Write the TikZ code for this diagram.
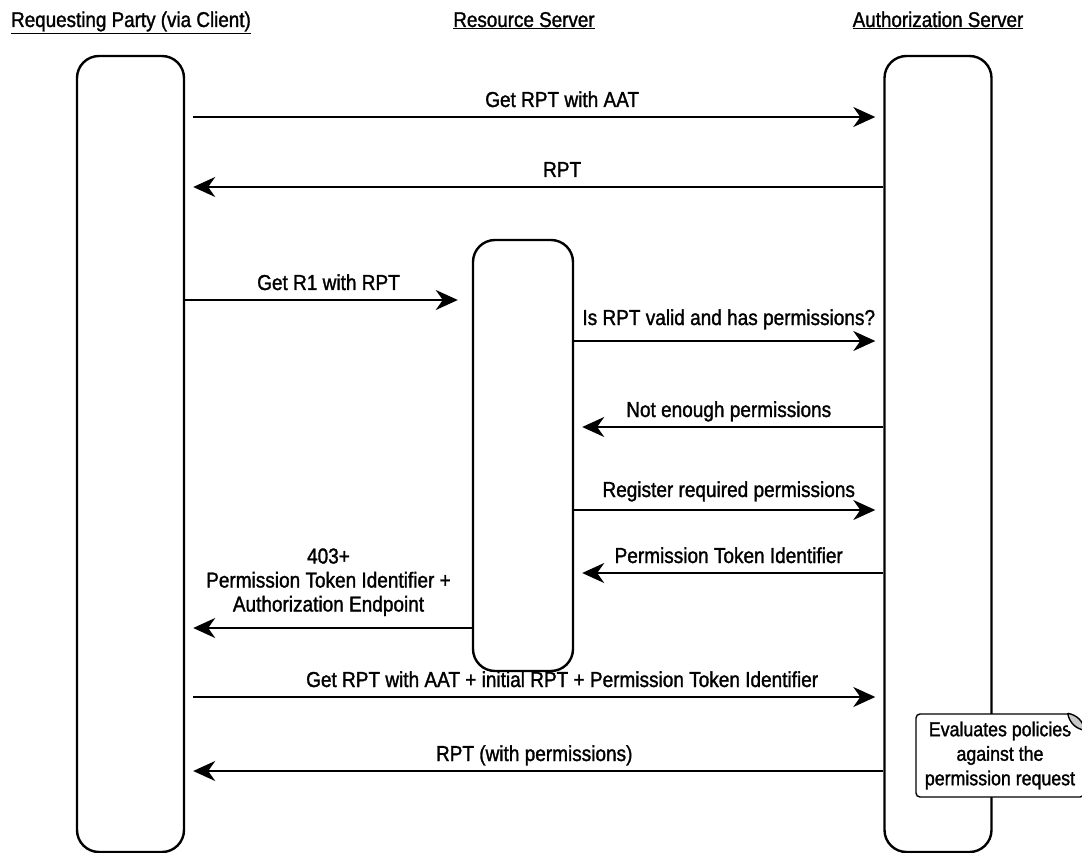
\documentclass[tikz,border=0pt]{standalone}
\usepackage{fontspec}
\setmainfont{Liberation Sans}[FakeStretch=0.88, FakeBold=1.4]
\usetikzlibrary{arrows.meta,positioning,calc}
\definecolor{UmaInk}{HTML}{000000}
\definecolor{UmaFold}{HTML}{C8C8C8}

\begin{document}
\begin{tikzpicture}[x=1pt, y=-1pt,
  every node/.style={font=\fontsize{21.6}{24}\selectfont, text=UmaInk},
  party/.style={font=\fontsize{21.4}{24}\selectfont, anchor=base, inner sep=0pt},
  lifeline/.style={draw=UmaInk, fill=white, rounded corners=22pt, line width=2.4pt,
                   minimum width=107pt, inner sep=0pt},
  msg/.style={-{Stealth[length=22pt,width=20pt,inset=7pt]}, draw=UmaInk,
              line width=2pt, shorten >=8pt},
  lbl/.style={anchor=base, yshift=10pt, inner sep=0pt},
  note/.style={draw=UmaInk, fill=white, rounded corners=4pt, line width=1.4pt, align=center,
               minimum width=168pt, minimum height=83pt, inner sep=0pt,
               font=\fontsize{20.2}{24.5}\selectfont},
]
\useasboundingbox (0,0) rectangle (1082,853);
% parties
\node[party] (rqp)  at (131,27) {\underline{Requesting Party (via Client)}};
\node[party] (rsh)  at (524,27) {\underline{Resource Server}};
\node[party] (ash)  at (938,27) {\underline{Authorization Server}};
% lifelines
\node[lifeline, minimum height=796pt] (client) at (130.5,454) {};
\node[lifeline, minimum height=796pt] (auth)   at (938,454) {};
\node[lifeline, minimum width=100pt, minimum height=431pt] (rs) at (523,455.5) {};
% message rows
\foreach \row/\y in {m1/117, m2/187, m3/300, m4/341, m5/427, m6/510, m7/573, m8/628, m9/697, m10/771}
  {\coordinate (\row) at (0,\y);}
% messages
\draw[msg, shorten <=8pt] (client.east |- m1) -- node[lbl, pos=0.54] {Get RPT with AAT} (auth.west |- m1);
\draw[msg] (auth.west |- m2) -- node[lbl, pos=0.46] {RPT} (client.east |- m2);
\draw[msg, shorten >=14pt] (client.east |- m3) -- node[lbl] {Get R1 with RPT} (rs.west |- m3);
\draw[msg] (rs.east |- m4) -- node[lbl, yshift=6pt] {Is RPT valid and has permissions?} (auth.west |- m4);
\draw[msg] (auth.west |- m5) -- node[lbl] {Not enough permissions} (rs.east |- m5);
\draw[msg] (rs.east |- m6) -- node[lbl, yshift=3pt] {Register required permissions} (auth.west |- m6);
\draw[msg] (auth.west |- m7) -- node[lbl] {Permission Token Identifier} (rs.east |- m7);
\draw[msg] (rs.west |- m8) -- node[anchor=south, yshift=11pt, inner sep=0pt, align=center]
  {403+\\Permission Token Identifier +\\Authorization Endpoint} (client.east |- m8);
\draw[msg, shorten <=8pt] (client.east |- m9) -- node[lbl, pos=0.54]
  {Get RPT with AAT + initial RPT + Permission Token Identifier} (auth.west |- m9);
\draw[msg] (auth.west |- m10) -- node[lbl, pos=0.5] {RPT (with permissions)} (client.east |- m10);
% policy note
\node[note] (eval) at (1000,755.5) {Evaluates policies\\against the\\permission request};
\fill[white] ($(eval.north east)+(-17,-2)$) rectangle ($(eval.north east)+(2,18)$);
\draw[line width=1.4pt, fill=UmaFold] ($(eval.north east)+(-17,0)$) to[bend left=35]
  ($(eval.north east)+(0,17)$) to[bend left=35] ($(eval.north east)+(-17,0)$);
\end{tikzpicture}
\end{document}
